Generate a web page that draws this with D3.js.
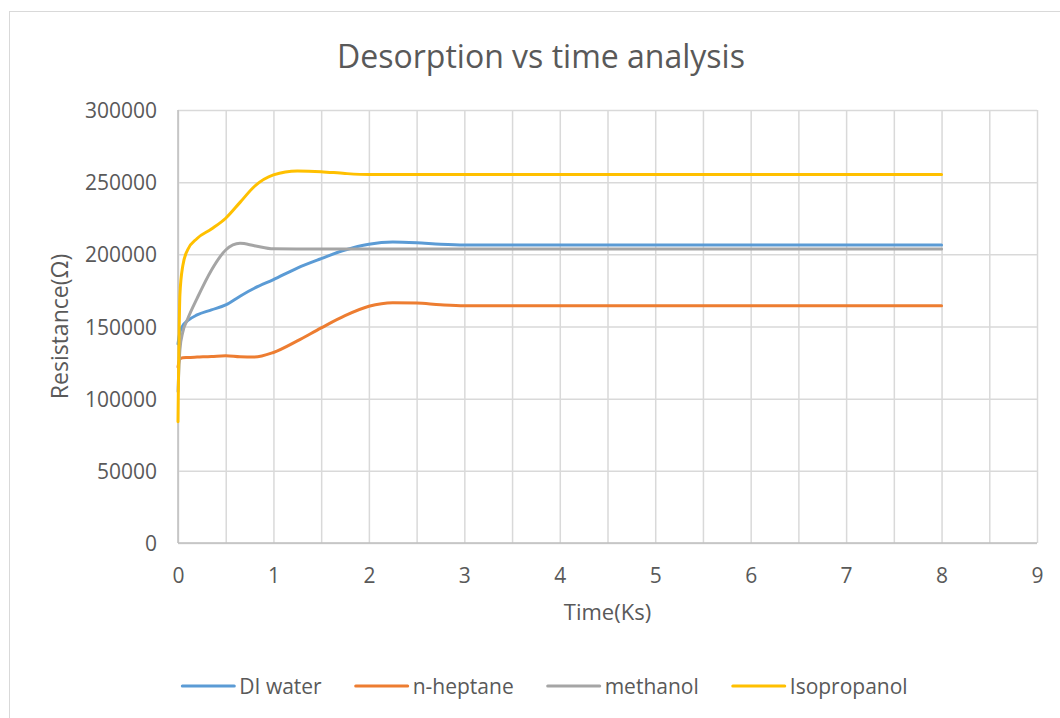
<!DOCTYPE html>
<html>
<head>
<meta charset="utf-8">
<script src="https://cdn.jsdelivr.net/npm/d3@7"></script>
<style>
  body { margin: 0; background: #ffffff; }
  text { font-family: "Open Sans", "Noto Sans", sans-serif; fill: #595959; }
</style>
</head>
<body>
<div id="chart"></div>
<script>
// the data (time in Ks, resistance in ohm)
var timeKs = [0, 0.02, 0.05, 0.1, 0.2, 0.35, 0.5, 0.65, 0.8, 1, 1.25, 1.5, 1.75, 2, 2.25, 2.5, 2.75, 3, 4, 5, 6, 7, 8];
var diWater = [138000, 146000, 150500, 154000, 158000, 161500, 165000, 171000, 176500, 182500, 190500, 197000, 203000, 207000, 208500, 208000, 207000, 206500, 206500, 206500, 206500, 206500, 206500];
var nHeptane = [122000, 127500, 128300, 128500, 128800, 129200, 129800, 129000, 128800, 132000, 140000, 149000, 157500, 164000, 166500, 166200, 165000, 164300, 164300, 164300, 164300, 164300, 164300];
var methanol = [105000, 134000, 146000, 155000, 169500, 189000, 203000, 207600, 206000, 203800, 203700, 203700, 203700, 203700, 203700, 203700, 203700, 203700, 203700, 203700, 203700, 203700, 203700];
var isopropanol = [84000, 172000, 192000, 203000, 211000, 217500, 225000, 236000, 247000, 255000, 257800, 257300, 256000, 255300, 255300, 255300, 255300, 255300, 255300, 255300, 255300, 255300, 255300];

var seriesNames = ["DI water", "n-heptane", "methanol", "Isopropanol"];
var seriesColors = ["#5b9bd5", "#ed7d31", "#a5a5a5", "#ffc000"];
var seriesValues = [diWater, nHeptane, methanol, isopropanol];

var xTicks = [0, 1, 2, 3, 4, 5, 6, 7, 8, 9];
var yTicks = [0, 50000, 100000, 150000, 200000, 250000, 300000];

var svgWidth = 1060;
var svgHeight = 718;

// plot box inside the svg
var plot = { left: 178, right: 1037, top: 110, bottom: 543 };

var svg = d3.select("#chart")
    .append("svg")
    .attr("width", svgWidth)
    .attr("height", svgHeight);

// outer chart border like excel draws it
svg.append("rect")
    .attr("x", 9.5)
    .attr("y", 11.5)
    .attr("width", 1070)
    .attr("height", 730)
    .attr("fill", "#ffffff")
    .attr("stroke", "#d9d9d9")
    .attr("stroke-width", 1);

var x = d3.scaleLinear().domain([0, 9]).range([plot.left, plot.right]);
var y = d3.scaleLinear().domain([0, 300000]).range([plot.bottom, plot.top]);

// vertical gridlines every half unit
var xGrid = d3.range(0, 9.01, 0.5);
svg.append("g")
    .attr("transform", `translate(0, ${plot.bottom})`)
    .call(d3.axisBottom(x).tickValues(xGrid).tickSize(-(plot.bottom - plot.top)).tickFormat(""))
    .call(g => g.select(".domain").remove())
    .call(g => g.selectAll("line").attr("stroke", "#d9d9d9").attr("stroke-width", 1.5));

// horizontal gridlines
svg.append("g")
    .attr("transform", `translate(${plot.left}, 0)`)
    .call(d3.axisLeft(y).tickValues(yTicks).tickSize(-(plot.right - plot.left)).tickFormat(""))
    .call(g => g.select(".domain").remove())
    .call(g => g.selectAll("line").attr("stroke", "#d9d9d9").attr("stroke-width", 1.5));

// axis lines
svg.append("line")
    .attr("x1", plot.left).attr("x2", plot.right)
    .attr("y1", plot.bottom).attr("y2", plot.bottom)
    .attr("stroke", "#bfbfbf").attr("stroke-width", 1.5);
svg.append("line")
    .attr("x1", plot.left).attr("x2", plot.left)
    .attr("y1", plot.top).attr("y2", plot.bottom)
    .attr("stroke", "#bfbfbf").attr("stroke-width", 1.5);

// tick labels, x
var xAxis = svg.append("g")
    .attr("transform", `translate(0, ${plot.bottom})`)
    .call(d3.axisBottom(x).tickValues(xTicks).tickSize(0).tickPadding(0));
xAxis.select(".domain").remove();
xAxis.selectAll("text")
    .attr("y", 40)
    .attr("dy", null)
    .style("font-size", "21px")
    .attr("fill", "#595959");

// tick labels, y
var yAxis = svg.append("g")
    .attr("transform", `translate(${plot.left}, 0)`)
    .call(d3.axisLeft(y).tickValues(yTicks).tickSize(0).tickPadding(21).tickFormat(d3.format("d")));
yAxis.select(".domain").remove();
yAxis.selectAll("text")
    .attr("dy", "0.36em")
    .style("font-size", "21px")
    .attr("fill", "#595959");
xAxis.attr("font-family", null);
yAxis.attr("font-family", null);

// the four lines
var line = d3.line()
    .x((d, i) => x(timeKs[i]))
    .y(d => y(d))
    .curve(d3.curveMonotoneX);

svg.selectAll(".series")
    .data(seriesValues)
    .enter()
    .append("path")
    .attr("class", "series")
    .attr("d", d => line(d))
    .attr("fill", "none")
    .attr("stroke", (d, i) => seriesColors[i])
    .attr("stroke-width", 3)
    .attr("stroke-linejoin", "round")
    .attr("stroke-linecap", "round");

// title and axis titles
svg.append("text")
    .attr("x", 541)
    .attr("y", 68)
    .attr("text-anchor", "middle")
    .style("font-size", "32px")
    .text("Desorption vs time analysis");

svg.append("text")
    .attr("x", (plot.left + plot.right) / 2)
    .attr("y", 620)
    .attr("text-anchor", "middle")
    .style("font-size", "22px")
    .text("Time(Ks)");

svg.append("text")
    .attr("transform", `translate(68, ${(plot.top + plot.bottom) / 2}) rotate(-90)`)
    .attr("text-anchor", "middle")
    .style("font-size", "23px")
    .text("Resistance(Ω)");

// legend at the bottom, measured so it sits centred
var legend = svg.append("g");
var legendY = 686;
var items = legend.selectAll("g")
    .data(seriesNames)
    .enter()
    .append("g");
items.append("line")
    .attr("x1", 0).attr("x2", 52)
    .attr("y1", 0).attr("y2", 0)
    .attr("stroke", (d, i) => seriesColors[i])
    .attr("stroke-width", 3)
    .attr("stroke-linecap", "round");
items.append("text")
    .attr("x", 57)
    .attr("dy", "0.36em")
    .style("font-size", "21px")
    .text(d => d);

var pos = 0;
var offsets = [];
items.each(function() {
    offsets.push(pos);
    var w = 57 + d3.select(this).select("text").node().getComputedTextLength();
    pos += w + 34;
});
var total = pos - 34;
var start = 545 - total / 2;
items.attr("transform", (d, i) => `translate(${start + offsets[i]}, ${legendY})`);
</script>
</body>
</html>
